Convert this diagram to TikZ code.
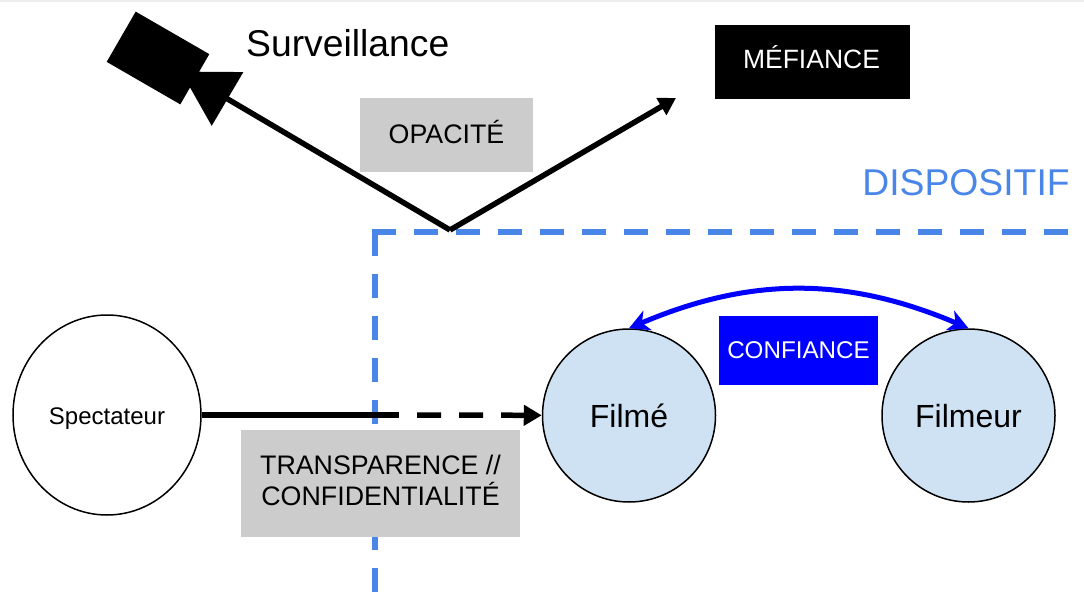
\documentclass[tikz,border=0pt]{standalone}
\usepackage{fontspec}
\usepackage{xcolor}
\usepackage{tikz}
\usetikzlibrary{shapes.geometric, arrows.meta, positioning}
\setmainfont{Liberation Sans}
\definecolor{lightgrey}{HTML}{CCCCCC}
\definecolor{paleblue}{HTML}{CFE2F3}
\definecolor{dashblue}{HTML}{4A86E8}

\begin{document}
\begin{tikzpicture}[
    x=1pt, y=-1pt,
    label/.style={font=\fontsize{37.3}{42}\selectfont, inner sep=0pt},
    greybox/.style={rectangle, fill=lightgrey, align=center, text depth=0pt, font=\fontsize{26.8}{31}\selectfont},
    person/.style={circle, draw=black, fill=paleblue, line width=1.5pt, inner sep=0pt, minimum size=173pt, text height=24.4pt, text depth=0pt, font=\fontsize{32}{38}\selectfont},
    arrow/.style={line width=5.5pt, black},
    framedash/.style={dashblue, line width=5.5pt, dash pattern=on 24pt off 18pt}
]
\useasboundingbox (0,0) rectangle (1084,596);
\fill[black!7] (0,0) rectangle (1084,2);

% Dispositif frame
\coordinate (frameright) at (1072,232);
\coordinate (framecorner) at (375,232);
\coordinate (framebottom) at (375,592);
\draw[framedash, shorten <=-2.75pt] (framecorner) -- (frameright);
\draw[framedash] (framecorner) -- (framebottom);
\node[label, text=dashblue] (dispositif) at (966,183) {DISPOSITIF};

% Nodes
\node[rectangle, fill=black, rotate=-30, minimum width=85pt, minimum height=58pt, inner sep=0pt] (camera) at (158,58) {};
\node[label, anchor=west] (surveillance) at (246,43) {Surveillance};
\node[greybox, minimum width=173pt, minimum height=74pt, text height=16.6pt] (opacite) at (446.5,135) {OPACITÉ};
\node[rectangle, fill=black, text=white, minimum width=195pt, minimum height=74pt, text height=14pt, text depth=0pt, font=\fontsize{26.5}{32}\selectfont] (mefiance) at (812.5,62) {\hspace{-2pt}MÉFIANCE};
\node[rectangle, fill=blue, text=white, minimum width=159pt, minimum height=69pt, text height=15.6pt, text depth=0pt, font=\fontsize{24.2}{30}\selectfont] (confiance) at (798.5,350.5) {CONFIANCE};
\node[ellipse, draw=black, fill=white, line width=1.5pt, minimum width=188pt, minimum height=200pt, inner sep=0pt, text height=18.6pt, text depth=0pt, font=\fontsize{24}{30}\selectfont] (spectateur) at (107,415) {Spectateur};
\node[person] (filme) at (629,415.5) {Filmé};
\node[person] (filmeur) at (968.5,415.5) {Filmeur};
\coordinate (vertex) at (450,230);
\coordinate (mefiancetip) at (676,98);
\coordinate (dashstart) at (399,415);

% Arrows
\draw[arrow, -{Triangle[length=54pt, width=61pt]}, shorten >=-16pt] (vertex) -- (camera);
\draw[arrow, -{Triangle[length=17pt, width=19pt]}] (vertex) -- (mefiancetip);
\draw[arrow] (spectateur) -- (dashstart);
\draw[arrow, dash pattern=on 24pt off 18pt, dash phase=24pt, -{Triangle[length=18pt, width=20pt]}] (dashstart) -- (filme);
\draw[blue, line width=5pt, {Stealth[length=20pt, width=21pt, inset=6pt]}-{Stealth[length=20pt, width=21pt, inset=6pt]}] (filme.north) to[bend left=23] (filmeur.north);

% Label over the frame
\node[greybox, minimum width=279pt, minimum height=107pt, text height=43pt] (transparence) at (380.5,483.5) {TRANSPARENCE //\\CONFIDENTIALITÉ};
\end{tikzpicture}
\end{document}
